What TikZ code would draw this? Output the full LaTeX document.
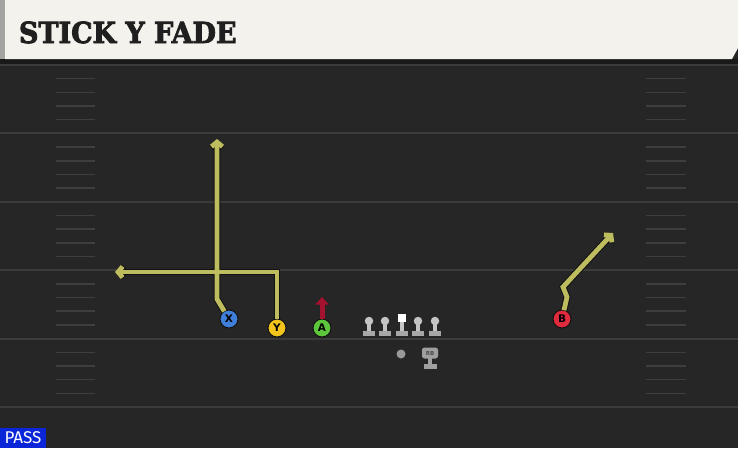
\documentclass[tikz,border=0pt]{standalone}
\usepackage{fontspec}
\usetikzlibrary{arrows.meta}
\newfontfamily\titlefont{DejaVu Serif}[BoldFeatures={FakeBold=3}]
\newfontfamily\tagfont{Fira Sans}
\newfontfamily\badgefont{DejaVu Sans}
\definecolor{fieldcol}{HTML}{262626}
\definecolor{yardcol}{HTML}{3B3B3B}
\definecolor{hashcol}{HTML}{3E3E3E}
\definecolor{headcol}{HTML}{F4F2EC}
\definecolor{stripcol}{HTML}{A4A4A2}
\definecolor{routecol}{HTML}{BDBC5E}
\definecolor{edgecol}{HTML}{121212}
\definecolor{xcol}{HTML}{3F7FD9}
\definecolor{ycol}{HTML}{F3C51C}
\definecolor{acol}{HTML}{5DC73C}
\definecolor{bcol}{HTML}{DF2B3D}
\definecolor{blockcol}{HTML}{A3122E}
\definecolor{olcol}{HTML}{C4C4C4}
\definecolor{passcol}{HTML}{0A26D8}
\begin{document}
\begin{tikzpicture}[x=1pt,y=-1pt,
  every node/.style = {inner sep=0pt, outer sep=0pt},
  yardline/.style = {draw=yardcol, line width=2pt},
  hashmark/.style = {draw=hashcol, line width=1.5pt},
  player/.style   = {circle, draw=edgecol, line width=1pt,
    minimum size=18pt, font=\badgefont\bfseries\fontsize{10.5}{10.5}\selectfont},
  routetip/.style = {-{Straight Barb[length=4.5pt,width=11pt]}},
  routeedge/.style= {routetip, draw=edgecol, line width=6.8pt},
  route/.style    = {routetip, draw=routecol, line width=4.8pt},
  block/.style    = {draw=blockcol, line width=5pt,
    -{Triangle[length=7.5pt,width=13pt]}},
  olhead/.style   = {circle, fill=olcol, minimum size=8.5pt},
  olbox/.style    = {fill=white, minimum size=8.5pt},
  qbdot/.style    = {circle, fill=gray!80, minimum size=9pt},
  rbbox/.style    = {rounded corners=2.5pt, fill=gray!75, minimum width=16pt,
    minimum height=11pt, font=\badgefont\bfseries\fontsize{5.5}{5.5}\selectfont,
    text=black!70},
  passtag/.style  = {fill=passcol, text=white, minimum width=46pt,
    minimum height=20pt, font=\tagfont\fontsize{17}{17}\selectfont}]
\useasboundingbox (0,0) rectangle (738,448);
\fill[fieldcol] (0,0) rectangle (738,448);

% yard lines and hash marks
\foreach \k in {0,...,5}
  \draw[yardline] (0,65+68.4*\k) -- (738,65+68.4*\k);
\foreach \k in {0,...,4}
  \foreach \j in {1,...,4}{
    \draw[hashmark] (56,65+68.4*\k+13.68*\j) -- (95,65+68.4*\k+13.68*\j);
    \draw[hashmark] (646,65+68.4*\k+13.68*\j) -- (686,65+68.4*\k+13.68*\j);
  }

% header
\fill[black!90] (0,59) rectangle (738,64);
\fill[headcol] (5,0) -- (738,0) -- (738,48) -- (732,59) -- (5,59) -- cycle;
\fill[stripcol] (0,0) rectangle (5,59);
\node[anchor=base west, text=black!88,
  font=\titlefont\bfseries\fontsize{29}{29}\selectfont] (title) at (19,43)
  {\scalebox{0.93}[1]{STICK Y FADE}};

% line
\foreach \n/\x in {lt/369,lg/385,rg/418,rt/435}{
  \fill[olcol] (\x-2,321) rectangle (\x+2,332);
  \fill[olcol!85!black] (\x-6,331) rectangle (\x+6,336);
  \node[olhead] (\n) at (\x,321) {};
}
\fill[olcol] (400,321) rectangle (404,332);
\fill[olcol!85!black] (396,331) rectangle (408,336);
\node[olbox] (c) at (402,318) {};

% backfield
\node[qbdot] (qb) at (401,354) {};
\fill[gray!75] (428,357) rectangle (432,365);
\fill[gray!75] (424,364) rectangle (437,368.5);
\node[rbbox] (rb) at (430,353) {RB};

% players
\node[player, fill=xcol] (x) at (229,319) {X};
\node[player, fill=ycol] (y) at (277,328) {Y};
\node[player, fill=acol] (a) at (322,328) {A};
\node[player, fill=bcol] (b) at (562,319) {B};

% routes
\coordinate (xbend) at (217,299);
\coordinate (xend)  at (217,139);
\coordinate (yturn) at (277,272);
\coordinate (yend)  at (115,272);
\coordinate (bbend) at (567,297);
\coordinate (bkink) at (563,287);
\coordinate (bend)  at (613,233);
\coordinate (aend)  at (322,297);
\foreach \s in {routeedge,route}{
  \draw[\s] (x) -- (xbend) -- (xend);
  \draw[\s] (y) -- (yturn) -- (yend);
  \draw[\s] (b) -- (bbend) -- (bkink) -- (bend);
}
\draw[block] (a) -- (aend);

% play tag
\node[passtag, anchor=south west] (pass) at (0,448) {PASS};
\end{tikzpicture}
\end{document}
